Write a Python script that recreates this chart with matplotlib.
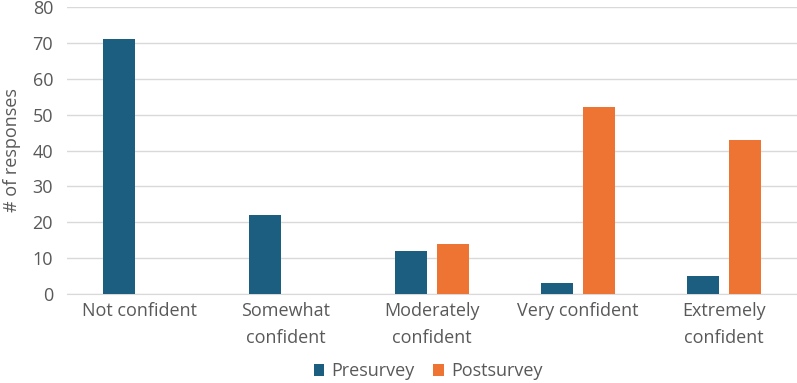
import numpy as np
import matplotlib.pyplot as plt

plt.rcParams['font.family'] = ['Open Sans', 'DejaVu Sans']

categories = ['Not confident', 'Somewhat\nconfident', 'Moderately\nconfident',
              'Very confident', 'Extremely\nconfident']
presurvey = [71, 22, 12, 3, 5]
postsurvey = [0, 0, 14, 52, 43]

text_color = '#595959'
pre_color = '#1b5e80'
post_color = '#ed7433'

fig = plt.figure(figsize=(7.97, 3.83), dpi=100)
ax = fig.add_axes([0.084, 0.232, 0.916, 0.75])

x = np.arange(len(categories))
w = 0.22
gap = 0.062
ax.bar(x - w / 2 - gap / 2, presurvey, w, color=pre_color, label='Presurvey', zorder=3)
ax.bar(x + w / 2 + gap / 2, postsurvey, w, color=post_color, label='Postsurvey', zorder=3)

ax.set_xlim(-0.5, len(categories) - 0.5)
ax.set_ylim(0, 80)
ax.set_yticks(range(0, 81, 10))
ax.set_xticks(x)
ax.set_xticklabels(categories, color=text_color, fontsize=13, linespacing=1.6)
ax.tick_params(axis='y', colors=text_color, labelsize=13, length=0, pad=10)
ax.tick_params(axis='x', length=0, pad=6)
ax.grid(axis='y', color='#d9d9d9', lw=1, zorder=0)
for s in ['top', 'right', 'left']:
    ax.spines[s].set_visible(False)
ax.spines['bottom'].set_color('#d9d9d9')
ax.set_ylabel('# of responses', color=text_color, fontsize=13, labelpad=8)

fig.legend(loc='lower center', bbox_to_anchor=(0.537, -0.035), ncol=2, frameon=False,
           fontsize=13, labelcolor=text_color, handlelength=0.6, handleheight=0.6,
           columnspacing=1.0, handletextpad=0.4)

fig.savefig('out.png', dpi=100)
